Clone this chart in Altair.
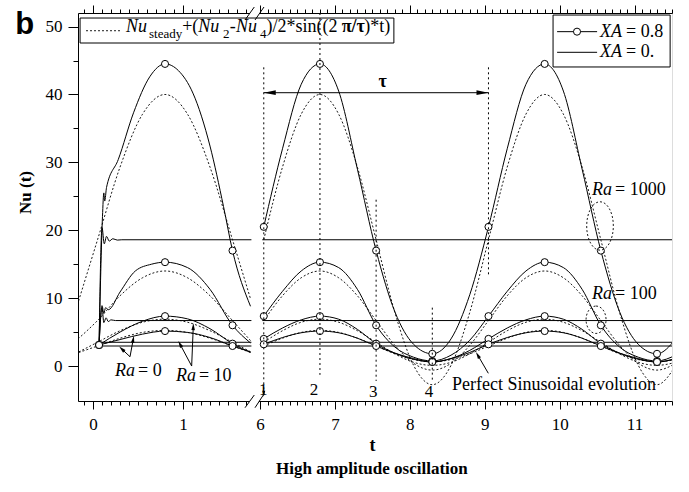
import altair as alt
import pandas as pd

SERIF = "Liberation Serif"
SANS = "Liberation Sans"

# ---------------- values ----------------
# XA = 0.8 (solid with circles), start-up part
t_l1000 = [0.067, 0.105, 0.12, 0.13, 0.15, 0.28, 0.45, 0.63, 0.8, 0.95, 1.11, 1.3, 1.45, 1.55, 1.75]
nu_l1000 = [3.1, 22.0, 25.5, 24.3, 26.3, 30.4, 37.3, 42.6, 44.5, 43.5, 40.2, 32.4, 23.5, 17.0, 8.8]
t_l100 = [0.067, 0.1, 0.12, 0.14, 0.17, 0.3, 0.47, 0.65, 0.8, 1.05, 1.3, 1.55, 1.75]
nu_l100 = [3.1, 8.9, 7.8, 8.6, 8.3, 10.9, 14.0, 15.0, 15.3, 14.5, 11.3, 6.0, 3.4]
t_l10 = [0.067, 0.3, 0.55, 0.8, 1.05, 1.3, 1.55, 1.75]
nu_l10 = [3.1, 5.0, 6.6, 7.35, 6.95, 5.5, 3.3, 2.0]
t_l0 = [0.067, 0.3, 0.55, 0.8, 1.05, 1.3, 1.55, 1.75]
nu_l0 = [3.1, 3.9, 4.7, 5.15, 4.95, 4.2, 2.95, 2.1]

# XA = 0.8, periodic part
t_r = [6.05, 6.3, 6.55, 6.8, 7.05, 7.3, 7.55, 7.8, 8.05, 8.3, 8.55, 8.8,
       9.05, 9.3, 9.55, 9.8, 10.05, 10.3, 10.55, 10.8, 11.05, 11.3, 11.55]
nu_r1000 = [20.5, 32.0, 41.5, 44.5, 40.5, 29.0, 17.0, 8.0, 3.2, 1.8, 4.0, 10.5,
            20.5, 32.0, 41.5, 44.5, 40.5, 29.0, 17.0, 8.0, 3.2, 1.8, 4.0]
nu_r100 = [7.35, 11.0, 14.0, 15.3, 14.5, 11.3, 6.0, 2.8, 1.3, 0.75, 1.6, 3.8,
           7.35, 11.0, 14.0, 15.3, 14.5, 11.3, 6.0, 2.8, 1.3, 0.75, 1.6]
nu_r10 = [4.0, 5.6, 6.8, 7.35, 6.9, 5.4, 3.3, 1.9, 1.0, 0.6, 1.1, 2.3,
          4.0, 5.6, 6.8, 7.35, 6.9, 5.4, 3.3, 1.9, 1.0, 0.6, 1.1]
nu_r0 = [3.2, 4.2, 4.9, 5.15, 4.9, 4.1, 2.95, 1.9, 1.1, 0.6, 1.1, 2.0,
         3.2, 4.2, 4.9, 5.15, 4.9, 4.1, 2.95, 1.9, 1.1, 0.6, 1.1]

# XA = 0 (plain solid), start-up part and steady part
t_s1000 = [0.067, 0.1, 0.125, 0.15, 0.18, 0.22, 0.27, 0.32, 1.76]
nu_s1000 = [3.1, 20.4, 18.0, 19.1, 18.4, 18.75, 18.55, 18.6, 18.6]
t_s100 = [0.067, 0.1, 0.12, 0.145, 0.17, 0.2, 0.25, 1.76]
nu_s100 = [3.1, 8.6, 6.4, 7.1, 6.55, 6.8, 6.7, 6.7]
t_s10 = [0.067, 0.1, 1.76]
nu_s10 = [3.1, 3.5, 3.5]
t_s0 = [0.067, 1.76]
nu_s0 = [2.95, 2.95]
t_sr = [6.03, 11.5]
nu_steady1000 = [18.6, 18.6]
nu_steady100 = [6.7, 6.7]
nu_steady10 = [3.5, 3.5]
nu_steady0 = [2.95, 2.95]

# dotted "perfect sinusoid" curves
t_dl = [-0.2, 0.05, 0.3, 0.55, 0.8, 1.05, 1.3, 1.55, 1.75]
d_l1000 = [7.9, 18.6, 29.3, 37.1, 40.0, 37.1, 29.3, 18.6, 9.9]
d_l100 = [3.6, 6.7, 10.35, 13.0, 14.0, 13.0, 10.35, 6.7, 3.75]
d_l10 = [1.8, 3.5, 5.2, 6.45, 6.9, 6.45, 5.2, 3.5, 2.1]
d_l0 = [1.8, 2.95, 4.1, 4.95, 5.25, 4.95, 4.1, 2.95, 2.0]
d_r1000 = [18.6, 29.3, 37.1, 40.0, 37.1, 29.3, 18.6, 7.9, 0.1, -2.75, 0.1, 7.9,
           18.6, 29.3, 37.1, 40.0, 37.1, 29.3, 18.6, 7.9, 0.1, -2.75, 0.1]
d_r100 = [6.7, 10.35, 13.0, 14.0, 13.0, 10.35, 6.7, 3.05, 0.4, -0.6, 0.4, 3.05,
          6.7, 10.35, 13.0, 14.0, 13.0, 10.35, 6.7, 3.05, 0.4, -0.6, 0.4]
d_r10 = [3.5, 5.2, 6.45, 6.9, 6.45, 5.2, 3.5, 1.8, 0.55, 0.1, 0.55, 1.8,
         3.5, 5.2, 6.45, 6.9, 6.45, 5.2, 3.5, 1.8, 0.55, 0.1, 0.55]
d_r0 = [2.95, 4.1, 4.95, 5.25, 4.95, 4.1, 2.95, 1.8, 0.95, 0.65, 0.95, 1.8,
        2.95, 4.1, 4.95, 5.25, 4.95, 4.1, 2.95, 1.8, 0.95, 0.65, 0.95]

marker_t = [0.067, 0.8, 1.55, 6.05, 6.8, 7.55, 8.3, 9.05, 9.8, 10.55, 11.3]

y_ticks = [0, 5, 10, 15, 20, 25, 30, 35, 40, 45, 50]

# ---------------- tables ----------------
def series(key, ts, vs):
    return pd.DataFrame({"key": key, "t": ts, "nu": vs})

xa08 = pd.concat([
    series("l1000", t_l1000, nu_l1000), series("l100", t_l100, nu_l100),
    series("l10", t_l10, nu_l10), series("l0", t_l0, nu_l0),
    series("r1000", t_r, nu_r1000), series("r100", t_r, nu_r100),
    series("r10", t_r, nu_r10), series("r0", t_r, nu_r0)])
xa0 = pd.concat([
    series("s1000", t_s1000, nu_s1000), series("s100", t_s100, nu_s100),
    series("s10", t_s10, nu_s10), series("s0", t_s0, nu_s0),
    series("q1000", t_sr, nu_steady1000), series("q100", t_sr, nu_steady100),
    series("q10", t_sr, nu_steady10), series("q0", t_sr, nu_steady0)])
dots = pd.concat([
    series("dl1000", t_dl, d_l1000), series("dl100", t_dl, d_l100),
    series("dl10", t_dl, d_l10), series("dl0", t_dl, d_l0),
    series("dr1000", t_r, d_r1000), series("dr100", t_r, d_r100),
    series("dr10", t_r, d_r10), series("dr0", t_r, d_r0)])
markers = xa08[xa08["t"].round(3).isin([round(v, 3) for v in marker_t])]

# ---------------- scales / axes ----------------
xs = alt.Scale(domain=[-0.167, 1.811, 5.953, 11.5], range=[0, 178, 178.5, 594],
               nice=False, zero=False)
ys = alt.Scale(domain=[-5.15, 52.0], nice=False, zero=False)

x_ticks = sorted(set([round(-0.1 + 0.1 * i, 1) for i in range(19)] +
                     [round(6.0 + 0.1 * i, 1) for i in range(56)]))
is_int = "abs(datum.value - round(datum.value)) < 0.001"
is_ten = "datum.value % 10 === 0"

def X(f="t", axis=None):
    return alt.X(f"{f}:Q", scale=xs, axis=axis)

def Y(f="nu", axis=None):
    return alt.Y(f"{f}:Q", scale=ys, axis=axis)

common_axis = dict(domainColor="black", tickColor="black", labelColor="black",
                   labelFont=SERIF, labelFontSize=17, grid=False, zindex=0,
                   labelOverlap=False, labelFlush=False, domainWidth=1, tickWidth=1)

x_bottom = alt.Axis(values=x_ticks,
                    labelExpr=f"{is_int} ? '' + round(datum.value) : ''",
                    tickSize={"condition": {"test": is_int, "value": 8}, "value": 4},
                    labelPadding=7, title="t", titleFont=SERIF, titleFontSize=18,
                    titleFontWeight="bold", titleColor="black", titleX=294, titleY=44,
                    titleAlign="center", titleBaseline="middle", orient="bottom",
                    **common_axis)
x_top = alt.Axis(values=x_ticks, labels=False, orient="top", title=None,
                 tickSize={"condition": {"test": is_int, "value": 8}, "value": 4},
                 **common_axis)
y_left = alt.Axis(values=y_ticks,
                  labelExpr=f"{is_ten} ? '' + datum.value : ''",
                  tickSize={"condition": {"test": is_ten, "value": 10}, "value": 5},
                  labelPadding=6, title="Nu (t)", titleFont=SERIF, titleFontSize=17,
                  titleFontWeight="bold", titleColor="black", titleX=-53, titleY=179,
                  titleAngle=270, titleAlign="center", titleBaseline="middle",
                  orient="left", **common_axis)

one = pd.DataFrame({"t": [0.0], "nu": [0.0]})
xaxis_layer = alt.Chart(one).mark_point(opacity=0).encode(x=X(axis=x_bottom), y=Y(axis=y_left))
top_layer = alt.Chart(one).mark_point(opacity=0).encode(x=X(axis=x_top), y=Y())

# ---------------- curves ----------------
dotted = alt.Chart(dots).mark_line(color="black", strokeWidth=0.9, strokeDash=[2, 2],
                                   interpolate="monotone", clip=True).encode(
    x=X(), y=Y(), detail="key:N")
solid08 = alt.Chart(xa08).mark_line(color="black", strokeWidth=1,
                                    interpolate="monotone", clip=True).encode(
    x=X(), y=Y(), detail="key:N")
solid0 = alt.Chart(xa0).mark_line(color="black", strokeWidth=1,
                                  interpolate="monotone", clip=True).encode(
    x=X(), y=Y(), detail="key:N")
circles = alt.Chart(markers).mark_point(shape="circle", filled=True, fill="white",
                                        stroke="black", strokeWidth=1, size=50,
                                        opacity=1, clip=True).encode(x=X(), y=Y())

# ---------------- annotations ----------------
def txt(t, nu, s, size=18, style="normal", weight="normal", align="left",
        baseline="alphabetic", font=SERIF):
    d = pd.DataFrame({"t": [t], "nu": [nu], "s": [s]})
    return alt.Chart(d).mark_text(align=align, baseline=baseline, font=font,
                                  fontSize=size, fontStyle=style, fontWeight=weight,
                                  color="black").encode(x=X(), y=Y(), text="s:N")

def rules(rows, dash=None, width=1, color="black"):
    d = pd.DataFrame(rows, columns=["t", "nu", "t2", "nu2"])
    kw = dict(color=color, strokeWidth=width)
    if dash:
        kw["strokeDash"] = dash
    return alt.Chart(d).mark_rule(**kw).encode(
        x=X(), y=Y(), x2=alt.X2("t2:Q"), y2=alt.Y2("nu2:Q"))

def heads(rows, path, size):
    d = pd.DataFrame(rows, columns=["t", "nu", "ang"])
    return alt.Chart(d).mark_point(shape=path, filled=True, color="black",
                                   size=size, opacity=1).encode(
        x=X(), y=Y(), angle=alt.Angle("ang:Q", scale=None))

# legend 1 (top left)
leg1_box = alt.Chart(pd.DataFrame({"t": [-0.144], "t2": [7.787], "nu": [51.26], "nu2": [47.58]})
                     ).mark_rect(fill="white", stroke="black", strokeWidth=1).encode(
    x=X(), x2="t2:Q", y=Y(), y2="nu2:Q")
leg1_line = rules([[-0.078, 49.39, 0.311, 49.39]], dash=[2, 2], width=0.9)
MB, SB = 49.2, 48.32
leg1_txt = [
    txt(0.366, MB, "Nu", style="italic"),
    txt(0.622, SB, "steady", size=13),
    txt(0.991, MB, "+("),
    txt(1.17, MB, "Nu", style="italic"),
    txt(1.445, SB, "2", size=13),
    txt(1.52, MB, "-"),
    txt(1.59, MB, "Nu", style="italic"),
    txt(6.0, SB, "4", size=13),
    txt(6.085, MB, ")/2*sin((2 "),
    txt(7.09, MB, "π/τ", weight="bold"),
    txt(7.39, MB, ")*t)"),
]

# legend 2 (top right)
leg2_box = alt.Chart(pd.DataFrame({"t": [9.912], "t2": [11.475], "nu": [51.7], "nu2": [44.05]})
                     ).mark_rect(fill="white", stroke="black", strokeWidth=1).encode(
    x=X(), x2="t2:Q", y=Y(), y2="nu2:Q")
leg2_lines = rules([[9.966, 49.25, 10.5, 49.25], [9.966, 46.21, 10.5, 46.21]])
leg2_circle = alt.Chart(pd.DataFrame({"t": [10.232], "nu": [49.25]})).mark_point(
    shape="circle", filled=True, fill="white", stroke="black", strokeWidth=1,
    size=50, opacity=1).encode(x=X(), y=Y())
leg2_txt = [
    txt(10.539, 49.2, "XA", style="italic", baseline="middle"),
    txt(10.886, 49.2, "= 0.8", baseline="middle"),
    txt(10.539, 46.2, "XA", style="italic", baseline="middle"),
    txt(10.886, 46.2, "= 0.", baseline="middle"),
]

# vertical marker lines, tau arrow
vlines = rules([[6.05, 44.0, 6.05, -3.6], [6.8, 52.0, 6.8, -1.3],
                [7.55, 24.5, 7.55, -2.2], [8.3, 8.6, 8.3, -2.0],
                [9.05, 44.0, 9.05, 13.5]], dash=[2, 3])
tau_line = rules([[6.05, 40.26, 9.05, 40.26]])
tau_heads = alt.layer(
    heads([[6.13, 40.26, 0]], "M-1,0L1,-0.4L1,0.4Z", 144),
    heads([[8.97, 40.26, 0]], "M1,0L-1,-0.4L-1,0.4Z", 144),
)
down_head = heads([[6.05, -4.1, 180]], "M0,-1L0.5,1L-0.5,1Z", 36)
num_txt = [
    txt(6.044, -3.53, "1", size=17, align="center", baseline="middle"),
    txt(6.721, -3.53, "2", size=17, align="center", baseline="middle"),
    txt(7.513, -3.78, "3", size=17, align="center", baseline="middle"),
    txt(8.256, -3.78, "4", size=17, align="center", baseline="middle"),
    txt(7.638, 41.88, "τ", size=18, weight="bold", align="center", baseline="middle"),
]

# arrows to curves
arrow_lines = rules([[0.411, 1.37, 0.319, 2.51], [0.411, 1.37, 0.447, 3.94],
                     [1.096, 0.0, 0.966, 3.24], [1.096, 0.0, 1.114, 5.8],
                     [9.048, -1.07, 8.906, 1.62]])
arrow_heads = heads([[0.319, 2.51, 313], [0.447, 3.94, 11], [0.966, 3.24, 332],
                     [1.114, 5.8, 2], [8.906, 1.62, 330]],
                    "M0,-1L0.5,1L-0.5,1Z", 49)

# ellipses around points
ell1 = alt.Chart(pd.DataFrame({"t": [10.539], "nu": [20.63]})).mark_point(
    shape="M0,-1A0.55,1 0 1,1 0,1A0.55,1 0 1,1 0,-1Z", size=2343, filled=False,
    stroke="black", strokeWidth=0.9, strokeDash=[2, 2], opacity=1).encode(x=X(), y=Y())
ell2 = alt.Chart(pd.DataFrame({"t": [10.486], "nu": [6.82]})).mark_point(
    shape="M0,-1A0.73,1 0 1,1 0,1A0.73,1 0 1,1 0,-1Z", size=751, filled=False,
    stroke="black", strokeWidth=0.9, strokeDash=[2, 2], opacity=1).encode(x=X(), y=Y())

ann_txt = [
    txt(0.466, -1.47, "Ra", style="italic", align="right"),
    txt(0.5, -1.47, "= 0"),
    txt(1.144, -2.2, "Ra", style="italic", align="right"),
    txt(1.177, -2.2, "= 10"),
    txt(10.7, 25.19, "Ra", style="italic", align="right"),
    txt(10.74, 25.19, "= 1000"),
    txt(10.7, 9.87, "Ra", style="italic", align="right"),
    txt(10.74, 9.87, "= 100"),
    txt(8.563, -3.53, "Perfect Sinusoidal evolution"),
    txt(7.493, -15.17, "High amplitude oscillation", size=17, weight="bold",
        align="center", baseline="middle"),
    txt(-0.76, 48.9, "b", size=31, weight="bold", align="center", font=SANS),
]

# axis break marks
gaps = rules([[1.744, -5.15, 5.986, -5.15], [1.744, 52.0, 5.986, 52.0]], width=3, color="white")
slashes = rules([[1.689, -6.14, 1.792, -4.27], [1.8, -6.14, 6.053, -4.12],
                 [1.689, 50.97, 1.792, 52.88], [1.8, 50.97, 6.053, 52.88]])

chart = alt.layer(
    xaxis_layer, top_layer,
    dotted, solid0, solid08, circles,
    ell1, ell2,
    leg1_box, leg1_line, *leg1_txt,
    leg2_box, leg2_lines, leg2_circle, *leg2_txt,
    vlines, tau_line, tau_heads, down_head, *num_txt,
    arrow_lines, arrow_heads, *ann_txt,
    gaps, slashes,
).resolve_axis(x="independent", y="independent").properties(
    width=594, height=388,
    autosize=alt.AutoSizeParams(type="none"),
    padding={"left": 78, "top": 13, "right": 17, "bottom": 91},
).configure_view(stroke="black", strokeWidth=1).configure(background="white")

chart.save("out.html", embed_options={"renderer": "svg", "actions": False})
